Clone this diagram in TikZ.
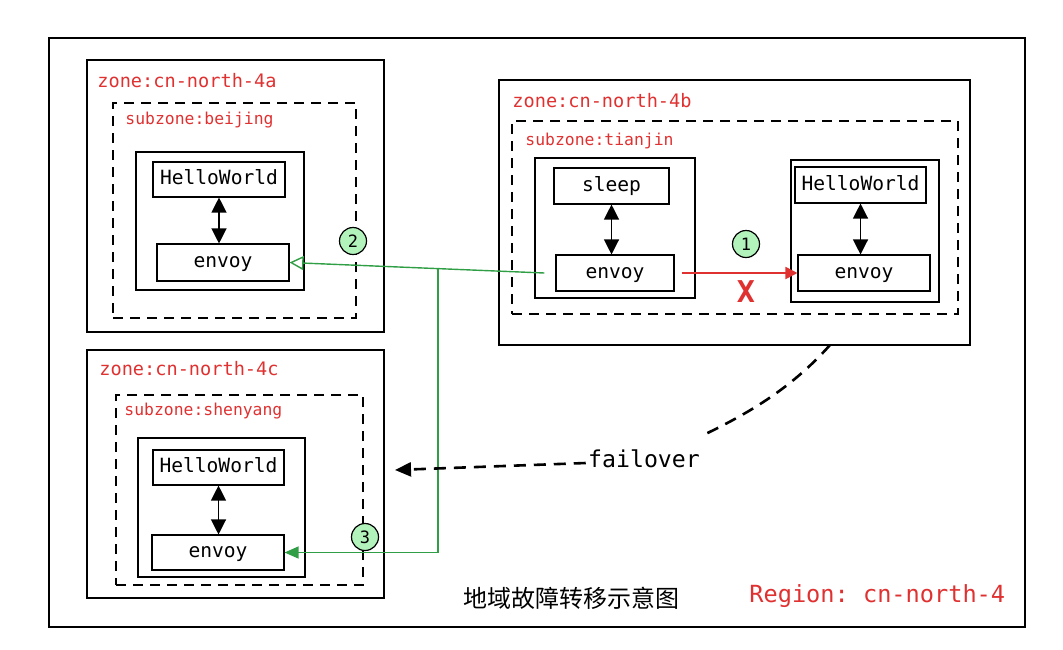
\documentclass[tikz,border=0pt]{standalone}
\usepackage{fontspec}
\setmonofont{DejaVu Sans Mono}
\newfontfamily\cjk{Noto Sans CJK SC}
\usetikzlibrary{arrows.meta,fit}

\definecolor{zonered}{HTML}{E03131}
\definecolor{linkgreen}{HTML}{2F9E44}
\definecolor{stepmint}{HTML}{B2F2BB}

\tikzset{
  zonebox/.style={draw, line width=1pt, inner sep=0},
  subbox/.style={draw, line width=0.75pt, dash pattern=on 5pt off 3.5pt, inner sep=0},
  podbox/.style={draw, line width=0.8pt, inner sep=0},
  appbox/.style={draw, line width=0.55pt, inner sep=0},
  apptext/.style={inner sep=0, text height=0.62em, text depth=0.08em, font=\ttfamily\fontsize{9.8}{11}\selectfont},
  zonetag/.style={anchor=west, inner sep=0, text=zonered, font=\ttfamily\fontsize{9.3}{11}\selectfont},
  subtag/.style={anchor=west, inner sep=0, text=zonered, font=\ttfamily\fontsize{8.2}{10}\selectfont},
  sidecar/.style={{Triangle[length=7.5pt,width=7.5pt]}-{Triangle[length=7.5pt,width=7.5pt]}, line width=0.6pt},
  stepmark/.style={circle, draw, fill=stepmint, line width=0.6pt, minimum size=13.5pt, inner sep=0, font=\ttfamily\fontsize{8.5}{10}\selectfont},
  greenlink/.style={draw=linkgreen, line width=0.7pt},
  faildash/.style={line width=1.3pt, dash pattern=on 6pt off 4pt},
}

\begin{document}
\begin{tikzpicture}[x=0.5pt, y=-0.5pt]
  \useasboundingbox (0,0) rectangle (1063,649);

  % Region frame
  \node[zonebox, fit={(49,38) (1025,627)}] (region) {};
  \node[anchor=west, inner sep=0, text=zonered, font=\ttfamily\fontsize{11.8}{14}\selectfont] (regiontag) at (749,596) {Region: cn-north-4};
  \node[font=\cjk\fontsize{12}{14}\selectfont] (caption) at (571,598) {地域故障转移示意图};

  % Zone cn-north-4a / beijing
  \node[zonebox, fit={(87,60) (384,332)}] (azone) {};
  \node[zonetag] (azonetag) at (97,81) {zone:cn-north-4a};
  \node[subbox, fit={(113,103) (356,318)}] (asub) {};
  \node[subtag] (asubtag) at (125,120) {subzone:beijing};
  \node[podbox, fit={(136,152) (304,290)}] (apod) {};
  \node[appbox, fit={(153,162) (285,197)}, label={[apptext]center:HelloWorld}] (ahello) {};
  \node[appbox, fit={(157,244) (289,281)}, label={[apptext]center:envoy}] (aenvoy) {};
  \draw[sidecar] (ahello.south) -- (ahello.south |- aenvoy.north);

  % Zone cn-north-4b / tianjin
  \node[zonebox, fit={(499,80) (970,345)}] (bzone) {};
  \node[zonetag] (bzonetag) at (512,101) {zone:cn-north-4b};
  \node[subbox, fit={(512,121) (958,314)}] (bsub) {};
  \node[subtag] (bsubtag) at (525,141) {subzone:tianjin};
  \node[podbox, fit={(535,158) (695,298)}] (bspod) {};
  \node[appbox, fit={(554,168) (669,204)}, label={[apptext]center:sleep}] (bsleep) {};
  \node[appbox, fit={(556,255) (674,291)}, label={[apptext]center:envoy}] (bsenvoy) {};
  \draw[sidecar] (bsleep.south) -- (bsleep.south |- bsenvoy.north);
  \node[podbox, fit={(791,160) (939,302)}] (bhpod) {};
  \node[appbox, fit={(795,167) (926,203)}, label={[apptext]center:HelloWorld}] (bhello) {};
  \node[appbox, fit={(798,255) (930,291)}, label={[apptext]center:envoy}] (bhenvoy) {};
  \draw[sidecar] (bhello.south) -- (bhello.south |- bhenvoy.north);

  % Zone cn-north-4c / shenyang
  \node[zonebox, fit={(87,350) (384,598)}] (czone) {};
  \node[zonetag] (czonetag) at (99,369) {zone:cn-north-4c};
  \node[subbox, fit={(116,395) (363,585)}] (csub) {};
  \node[subtag] (csubtag) at (124,411) {subzone:shenyang};
  \node[podbox, fit={(138,438) (305,577)}] (cpod) {};
  \node[appbox, fit={(153,450) (284,485)}, label={[apptext]center:HelloWorld}] (chello) {};
  \node[appbox, fit={(152,535) (284,570)}, label={[apptext]center:envoy}] (cenvoy) {};
  \draw[sidecar] (chello.south) -- (chello.south |- cenvoy.north);

  % Step 1: local call fails
  \draw[draw=zonered, line width=0.9pt, -{Triangle[length=6pt,width=6pt]}, shorten <=3.5pt] (bsenvoy.east) -- (bhenvoy.west);
  \node[stepmark] (step1) at (746,244) {1};
  \node[text=zonered, inner sep=0, font=\ttfamily\bfseries\fontsize{15}{16}\selectfont] (xmark) at (746,292) {X};

  % Step 2 and 3: failover to other zones
  \coordinate (gstart) at ([xshift=-5.5pt]bsenvoy.west);
  \coordinate (gjoin) at (438,268);
  \draw[greenlink, -{Triangle[open,length=7pt,width=7pt]}] (gstart) -- (aenvoy.east);
  \draw[greenlink, -{Triangle[length=7pt,width=6pt]}] (gjoin) |- (cenvoy.east);
  \node[stepmark] (step2) at (353,241) {2};
  \node[stepmark] (step3) at (365,537) {3};

  % failover hint
  \node[font=\ttfamily\fontsize{11.6}{14}\selectfont, inner sep=1pt] (failover) at (644,459) {failover};
  \coordinate (fostart) at (830,345);
  \coordinate (foend) at (395,470);
  \draw[faildash] (fostart) .. controls (790,390) and (745,415) .. ([yshift=6pt]failover.north east);
  \draw[faildash, -{Triangle[length=8pt,width=7pt]}] ([yshift=-2pt]failover.west) -- (foend);

\end{tikzpicture}
\end{document}
